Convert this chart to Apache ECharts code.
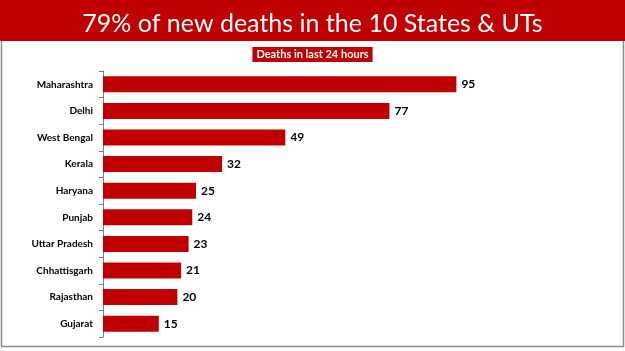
<!DOCTYPE html>
<html>
<head>
<meta charset="utf-8">
<script src="https://cdn.jsdelivr.net/npm/echarts@6/dist/echarts.min.js"></script>
<style>
  html, body { margin: 0; padding: 0; background: #fff; }
  #chart { width: 625px; height: 351px; }
</style>
</head>
<body>
<div id="chart"></div>
<script>
// data
const categories = ['Maharashtra', 'Delhi', 'West Bengal', 'Kerala', 'Haryana',
    'Punjab', 'Uttar Pradesh', 'Chhattisgarh', 'Rajasthan', 'Gujarat'];
const deaths = [95, 77, 49, 32, 25, 24, 23, 21, 20, 15];

const RED = '#c00000';

let chart = echarts.init(document.getElementById('chart'));

const option = {
    backgroundColor: '#fff',
    animation: false,
    graphic: [
        // header band
        { type: 'rect', z: 0, shape: { x: 0, y: 0, width: 625, height: 41 }, style: { fill: RED } },
        // thin grey frame under the band
        {
            type: 'polyline', z: 0,
            shape: { points: [[1.5, 41], [1.5, 346.5], [623.5, 346.5], [623.5, 41]] },
            style: { stroke: '#8c8c8c', lineWidth: 1.5, fill: null }
        }
    ],
    title: [
        {
            text: '79% of new deaths in the 10 States & UTs',
            left: 'center', top: 6,
            textStyle: { color: '#fff', fontSize: 25, fontWeight: 'normal', fontFamily: 'Lato' }
        },
        {
            text: 'Deaths in last 24 hours',
            left: 'center', top: 47,
            padding: [2, 4],
            backgroundColor: RED,
            textStyle: { color: '#fff', fontSize: 11, fontWeight: 'bold', fontFamily: 'Lato' }
        }
    ],
    grid: { left: 103, top: 71, width: 372, height: 266, containLabel: false },
    xAxis: {
        type: 'value', min: 0, max: 100, show: false
    },
    yAxis: {
        type: 'category',
        data: categories,
        inverse: true,
        axisLine: { lineStyle: { color: '#7f7f7f', width: 1 } },
        axisTick: { show: true, length: 4, lineStyle: { color: '#7f7f7f' } },
        axisLabel: { margin: 10, color: '#000', fontSize: 10, fontWeight: 'bold', fontFamily: 'Lato' }
    },
    series: [{
        type: 'bar',
        data: deaths,
        barWidth: 16,
        itemStyle: { color: RED },
        label: {
            show: true, position: 'right', distance: 5,
            color: '#000', fontSize: 12, fontWeight: 'bold', fontFamily: 'Lato'
        }
    }]
};

chart.setOption(option);
</script>
</body>
</html>
